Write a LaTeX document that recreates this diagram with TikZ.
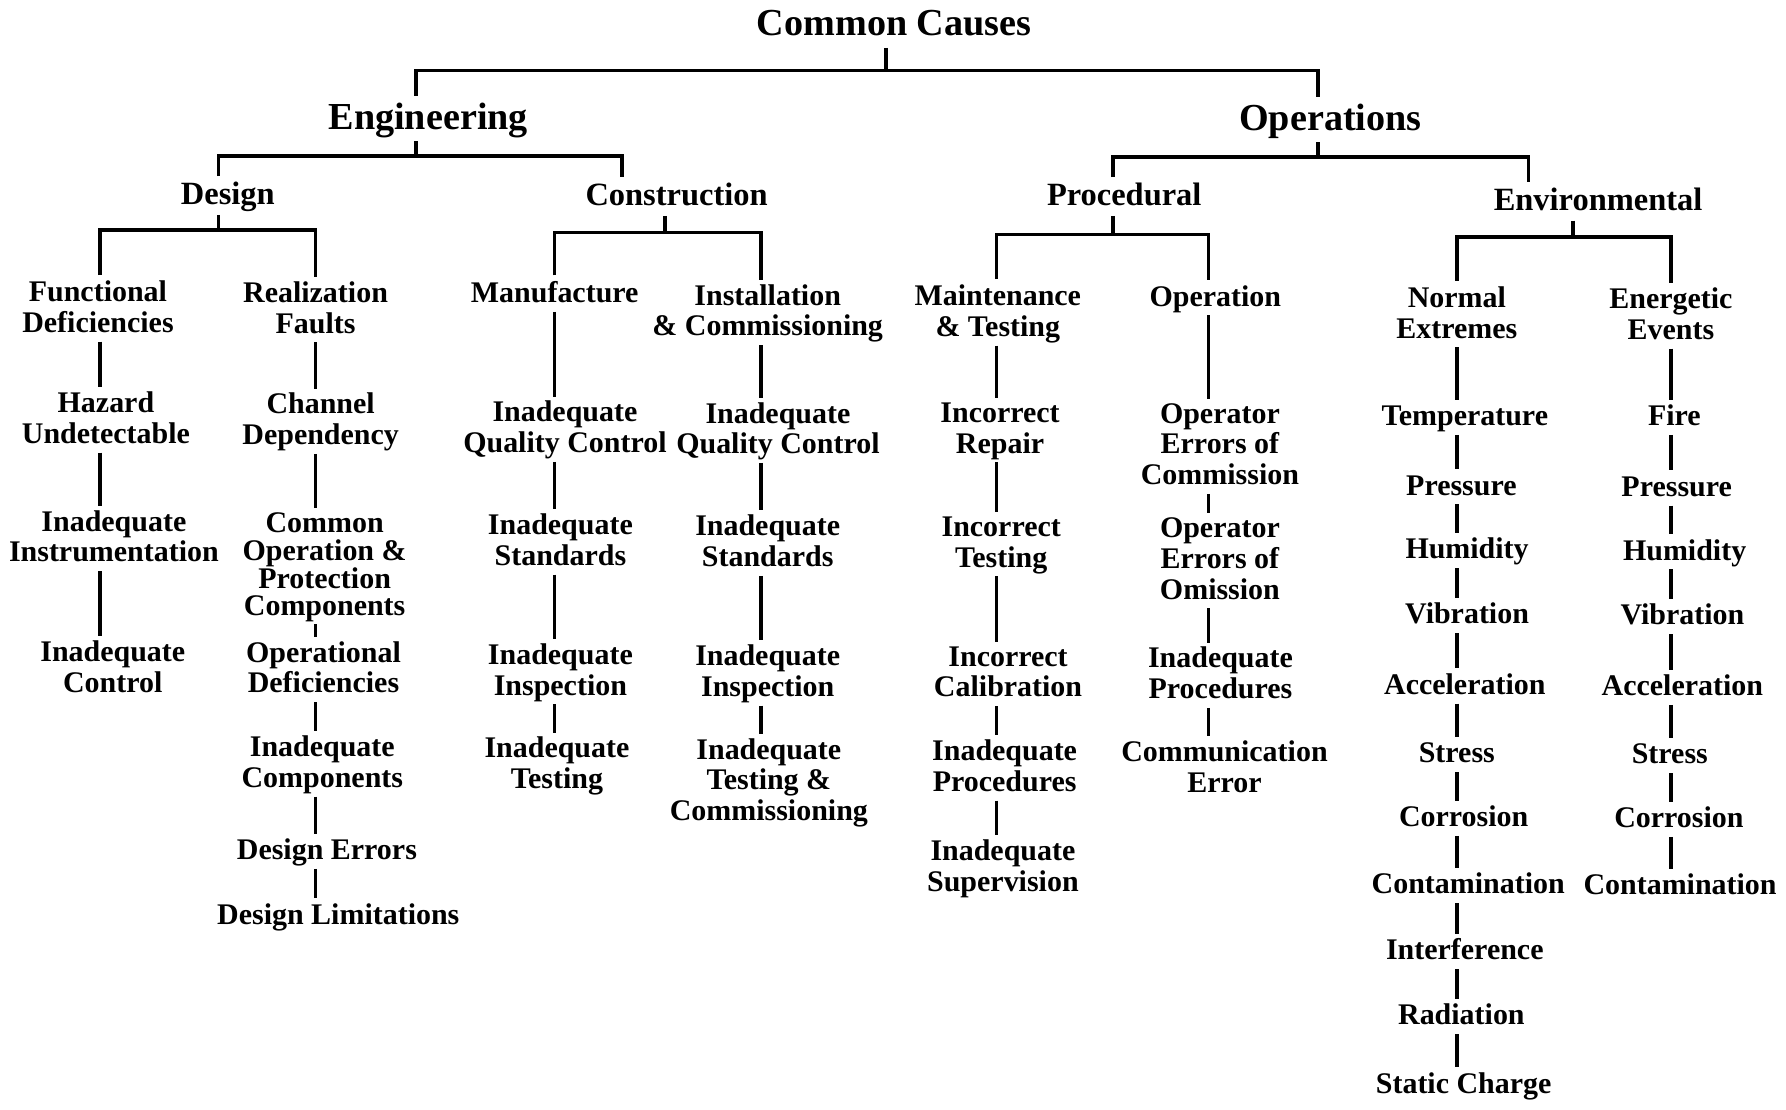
\documentclass[tikz,border=0pt]{standalone}
\usepackage{fontspec}
\setmainfont{Liberation Serif}
\begin{document}
\begin{tikzpicture}[x=1pt,y=-1pt,
  every node/.style={inner sep=0pt, outer sep=0pt, align=center,
    execute at begin node=\strut, execute at end node=\strut},
  lvone/.style={font=\fontsize{33.5}{36}\selectfont\bfseries, yshift=-4.1pt},
  lvtwo/.style={font=\fontsize{28.5}{30}\selectfont\bfseries, yshift=-3.6pt},
  item/.style={font=\fontsize{26.3}{27}\selectfont\bfseries, yshift=-3.3pt},
  tight/.style={font=\fontsize{26.3}{24.4}\selectfont\bfseries, yshift=-3.6pt},
  conn/.style={line width=3.1pt},
  link/.style={conn, shorten >=4pt}]

\fill[white] (0,0) rectangle (1568,974);
\useasboundingbox (0,0) rectangle (1568,974);

% ---- upper levels ----
\node[lvone] (root) at (785,20)  {Common Causes};
\node[lvone] (eng)  at (376,102) {Engineering};
\node[lvone] (ops)  at (1168,103) {Operations};
\node[lvtwo] (des)  at (200,170) {Design};
\node[lvtwo] (con)  at (594,171) {Construction};
\node[lvtwo] (pro)  at (987,171) {Procedural};
\node[lvtwo] (env)  at (1403,175) {Environmental};

% ---- Design ----
\node[item] (fd)  at (86,270)    {Functional\\Deficiencies};
\node[item] (hu)  at (93,367.5)  {Hazard\\Undetectable};
\node[item] (ii)  at (100,471.5) {Inadequate\\Instrumentation};
\node[item] (ic)  at (99,586)    {Inadequate\\Control};
\node[item] (rf)  at (277,270.5) {Realization\\Faults};
\node[item] (cd)  at (281.5,368.5) {Channel\\Dependency};
\node[tight] (cop) at (285,495.5) {Common\\Operation \&\\Protection\\Components};
\node[item] (od)  at (284,586.5) {Operational\\Deficiencies};
\node[item] (icm) at (283,669.5) {Inadequate\\Components};
\node[item] (der) at (287,746)   {Design Errors};
\node[item] (dli) at (297,803)   {Design Limitations};

% ---- Construction ----
\node[item] (man) at (487,257)   {Manufacture};
\node[item] (mqc) at (496,375.5) {Inadequate\\Quality Control};
\node[item] (mst) at (492,474.5) {Inadequate\\Standards};
\node[item] (min) at (492,588.5) {Inadequate\\Inspection};
\node[item] (mte) at (489,670.5) {Inadequate\\Testing};
\node[item] (ins) at (674,273)   {Installation\\\& Commissioning};
\node[item] (iqc) at (683,376.5) {Inadequate\\Quality Control};
\node[item] (ist) at (674,475.5) {Inadequate\\Standards};
\node[item] (iin) at (674,589.5) {Inadequate\\Inspection};
\node[item] (ite) at (675,685)   {Inadequate\\Testing \&\\Commissioning};

% ---- Procedural ----
\node[item] (mt)  at (876,273.5) {Maintenance\\\& Testing};
\node[item] (ir)  at (878,376.5) {Incorrect\\Repair};
\node[item] (it)  at (879,476.5) {Incorrect\\Testing};
\node[item] (ica) at (885,590.5) {Incorrect\\Calibration};
\node[item] (ip)  at (882,673)   {Inadequate\\Procedures};
\node[item] (isu) at (880.5,760.5) {Inadequate\\Supervision};
\node[item] (op)  at (1067,260)  {Operation};
\node[item] (oec) at (1071,390.5) {Operator\\Errors of\\Commission};
\node[item] (oeo) at (1071,491)  {Operator\\Errors of\\Omission};
\node[item] (oip) at (1071.5,591.5) {Inadequate\\Procedures};
\node[item] (cme) at (1075,673.5) {Communication\\Error};

% ---- Environmental ----
\node[item] (ne) at (1279,275) {Normal\\Extremes};
\node[item] (g1) at (1286,365) {Temperature};
\node[item] (g2) at (1283,426) {Pressure};
\node[item] (g3) at (1288,482) {Humidity};
\node[item] (g4) at (1288,539) {Vibration};
\node[item] (g5) at (1286,601) {Acceleration};
\node[item] (g6) at (1279,661) {Stress};
\node[item] (g7) at (1285,717) {Corrosion};
\node[item] (g8) at (1289,776) {Contamination};
\node[item] (g9) at (1286,834) {Interference};
\node[item] (g10) at (1283,891) {Radiation};
\node[item] (g11) at (1285,951) {Static Charge};
\node[item] (ee) at (1467,276) {Energetic\\Events};
\node[item] (h1) at (1470,365) {Fire};
\node[item] (h2) at (1472,427) {Pressure};
\node[item] (h3) at (1479,483) {Humidity};
\node[item] (h4) at (1477,540) {Vibration};
\node[item] (h5) at (1477,602) {Acceleration};
\node[item] (h6) at (1466,662) {Stress};
\node[item] (h7) at (1474,718) {Corrosion};
\node[item] (h8) at (1475,777) {Contamination};

% ---- connector columns and bar heights ----
\coordinate (xR)  at (778,0);
\coordinate (xE)  at (365,0);
\coordinate (xO)  at (1157,0);
\coordinate (xEC) at (546,0);
\coordinate (xD)  at (192,0);
\coordinate (xC)  at (584,0);
\coordinate (xP)  at (977,0);
\coordinate (xOV) at (1342,0);
\coordinate (xV)  at (1381,0);
\coordinate (cA) at (88,0);
\coordinate (cB) at (277,0);
\coordinate (cC) at (487,0);
\coordinate (cD) at (668,0);
\coordinate (cE) at (875,0);
\coordinate (cF) at (1061,0);
\coordinate (cG) at (1279,0);
\coordinate (cH) at (1467,0);
\coordinate (bR) at (0,62);
\coordinate (bE) at (0,137);
\coordinate (bO) at (0,138);
\coordinate (bD) at (0,202);
\coordinate (bC) at (0,204);
\coordinate (bP) at (0,206);
\coordinate (bV) at (0,208);

% ---- brackets ----
\draw[conn] (root.south -| xR) -- (xR |- bR);
\draw[link, shorten <=4pt] (eng.north -| xE) -- (xE |- bR) -- (xO |- bR) -- (ops.north -| xO);
\draw[conn] (eng.south -| xE) -- (xE |- bE);
\draw[link, shorten <=4pt] (des.north -| xD) -- (xD |- bE) -- (xEC |- bE) -- (con.north -| xEC);
\draw[conn] (ops.south -| xO) -- (xO |- bO);
\draw[link, shorten <=4pt] (pro.north -| xP) -- (xP |- bO) -- (xOV |- bO) -- (env.north -| xOV);
\draw[conn] (des.south -| xD) -- (xD |- bD);
\draw[link, shorten <=5pt] (fd.north -| cA) -- (cA |- bD) -- (cB |- bD) -- (rf.north -| cB);
\draw[conn] (con.south -| xC) -- (xC |- bC);
\draw[link, shorten <=5pt] (man.north -| cC) -- (cC |- bC) -- (cD |- bC) -- (ins.north -| cD);
\draw[conn] (pro.south -| xP) -- (xP |- bP);
\draw[link, shorten <=5pt] (mt.north -| cE) -- (cE |- bP) -- (cF |- bP) -- (op.north -| cF);
\draw[conn] (env.south -| xV) -- (xV |- bV);
\draw[link, shorten <=5pt] (ne.north -| cG) -- (cG |- bV) -- (cH |- bV) -- (ee.north -| cH);

% ---- vertical chains ----
\foreach \a/\b/\c in {fd/hu/cA, hu/ii/cA, ii/ic/cA,
    rf/cd/cB, cd/cop/cB, cop/od/cB, od/icm/cB, icm/der/cB, der/dli/cB,
    man/mqc/cC, mqc/mst/cC, mst/min/cC, min/mte/cC,
    ins/iqc/cD, iqc/ist/cD, ist/iin/cD, iin/ite/cD,
    mt/ir/cE, ir/it/cE, it/ica/cE, ica/ip/cE, ip/isu/cE,
    op/oec/cF, oec/oeo/cF, oeo/oip/cF, oip/cme/cF,
    ne/g1/cG, g1/g2/cG, g2/g3/cG, g3/g4/cG, g4/g5/cG, g5/g6/cG,
    g6/g7/cG, g7/g8/cG, g8/g9/cG, g9/g10/cG, g10/g11/cG,
    ee/h1/cH, h1/h2/cH, h2/h3/cH, h3/h4/cH, h4/h5/cH, h5/h6/cH,
    h6/h7/cH, h7/h8/cH}
  \draw[link] (\a.south -| \c) -- (\b.north -| \c);
\end{tikzpicture}
\end{document}
